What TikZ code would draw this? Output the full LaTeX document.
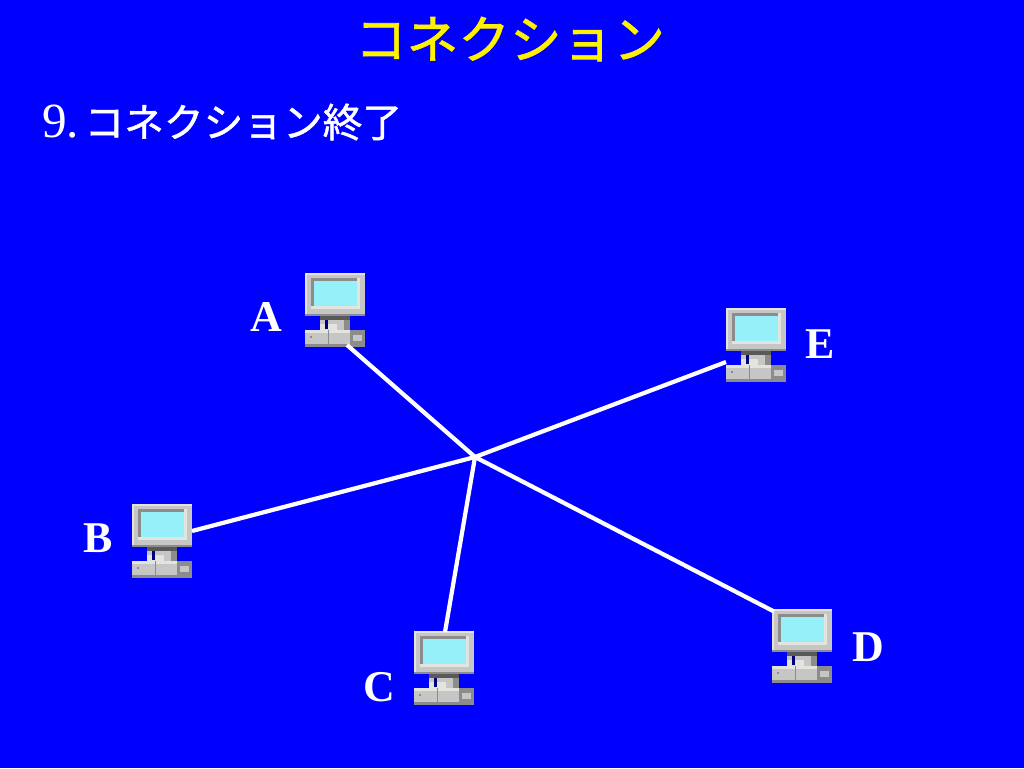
\documentclass[tikz,border=0pt]{standalone}
\usepackage{fontspec}
\setmainfont{Liberation Serif}[BoldFont={Liberation Serif Bold}]
\newfontfamily\jpfont{Noto Sans CJK JP}[BoldFont=*,BoldFeatures={FakeBold=1.2}]
\definecolor{slide}{RGB}{0,0,255}
\definecolor{screen}{RGB}{150,240,250}
\definecolor{case}{RGB}{198,198,198}
\definecolor{caselite}{RGB}{228,228,222}
\definecolor{casedark}{RGB}{140,140,140}
\tikzset{
  x=.02cm,y=-.02cm,
  title/.style={text=yellow,font=\jpfont\bfseries\fontsize{29.4}{30}\selectfont,inner sep=0},
  body/.style={text=white,font=\fontsize{28}{28}\selectfont,inner sep=0},
  tag/.style={text=white,font=\bfseries\fontsize{25}{25}\selectfont,inner sep=0},
  wire/.style={draw=white,line width=2.4pt},
  pc/.style={minimum width=1.2cm,minimum height=1.5cm,inner sep=0,outer sep=0},
}
% icon, 60 by 75 from its top left corner
\newcommand{\pcicon}{%
    \fill[case] (15,43) rectangle (45,57);
    \fill[black!65] (15,43) rectangle (45,47);
    \fill[caselite] (15,51) rectangle (32,57);
    \fill[casedark] (39,47) rectangle (45,57);
    \fill[blue!50!black] (20,47) rectangle (23,56);
    \fill[case] (0,0) rectangle (60,43);
    \fill[caselite] (0,0) rectangle (60,2);
    \fill[caselite] (0,0) rectangle (2,43);
    \fill[casedark] (0,41) rectangle (60,43);
    \fill[casedark] (6,5) rectangle (54,8);
    \fill[casedark] (6,5) rectangle (9,35);
    \fill[caselite] (6,33) rectangle (54,36);
    \fill[caselite] (52,5) rectangle (55,36);
    \fill[screen] (9,8) rectangle (52,33);
    \fill[case] (0,57) rectangle (60,74);
    \fill[caselite] (0,57) rectangle (45,60);
    \fill[casedark] (0,71) rectangle (60,74);
    \fill[casedark] (45,57) rectangle (60,71);
    \fill[case] (48,62) rectangle (57,68);
    \draw[casedark] (23,57) -- (23,71);
    \fill[casedark] (5,63) rectangle (7,65);
}
\begin{document}
\begin{tikzpicture}
\fill[slide] (0,0) rectangle (1024,768);
\useasboundingbox (0,0) rectangle (1024,768);

\node (head) [title] at (510,39) {コネクション};
\node (step) [body,anchor=base west] at (42,137) {9.\hspace{3pt}{\jpfont\bfseries\fontsize{22.6}{23}\selectfont コネクション終了}};

\node (pca) [pc] at (335,310.5) {};
\node (pce) [pc] at (756,345.5) {};
\node (pcb) [pc] at (162,541) {};
\node (pcc) [pc] at (444,668.5) {};
\node (pcd) [pc] at (802,646.5) {};
\foreach \pcname in {pca,pce,pcb,pcc,pcd}
  \begin{scope}[shift={(\pcname.north west)}]
    \pcicon
  \end{scope};

\node (la) [tag] at (266.5,317) {A};
\node (le) [tag] at (820,344) {E};
\node (lb) [tag] at (98,538) {B};
\node (lc) [tag] at (379,687) {C};
\node (ld) [tag] at (868,647) {D};

\coordinate (hub) at (475,457);
\path (pca.center) +(12,34.5) coordinate (pcao);
\path (pce.center) +(-30,16.5) coordinate (pceo);
\path (pcb.center) +(30,-10) coordinate (pcbo);
\path (pcc.center) +(1,-36.5) coordinate (pcco);
\path (pcd.center) +(-28,-35) coordinate (pcdo);

\draw[wire] (pcao) -- (hub);
\draw[wire] (pceo) -- (hub);
\draw[wire] (pcbo) -- (hub);
\draw[wire] (pcco) -- (hub);
\draw[wire] (pcdo) -- (hub);
\end{tikzpicture}
\end{document}
